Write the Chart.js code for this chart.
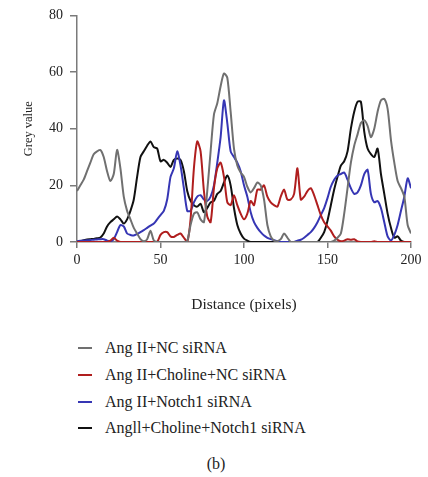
<!DOCTYPE html>
<html lang="en">
<head>
<meta charset="UTF-8">
<title>Grey value profile</title>
<script src="https://cdn.jsdelivr.net/npm/chart.js"></script>
<style>
  body { margin: 0; background: #fff; font-family: "Liberation Serif", "Times New Roman", serif; color: #222; }
  #wrap { position: relative; width: 428px; height: 477px; overflow: hidden; }
  #chartBox { position: absolute; left: 0; top: 0; width: 428px; height: 325px; }
  #legend { position: absolute; left: 78px; top: 335px; }
  .item { height: 26.7px; display: flex; align-items: center; font-size: 16px; white-space: nowrap; }
  .swatch { width: 14px; height: 2px; margin-right: 13px; }
  #caption { position: absolute; left: 0; top: 455px; width: 432px; text-align: center; font-size: 16px; }
</style>
</head>
<body>
<div id="wrap">
  <div id="chartBox"><canvas id="profile"></canvas></div>
  <div id="legend"></div>
  <div id="caption">(b)</div>
</div>
<script>
// distance along the line (pixels), every 2 px
const distance = [];
for (let d = 0; d <= 200; d += 2) distance.push(d);

const seriesNames = ['Ang II+NC siRNA', 'Ang II+Choline+NC siRNA', 'Ang II+Notch1 siRNA', 'Angll+Choline+Notch1 siRNA'];
const seriesColors = ['#707070', '#b01e1e', '#3636b4', '#111111'];

const ncSirna = [
  18, 20, 22, 25, 28, 31, 32, 32.5, 30, 25, 21.5, 24, 32.5, 26, 16, 11, 8, 5, 3, 1,
  0.3, 1, 4, 0.5, 0, 0, 0, 0, 0, 0, 0, 0, 0, 0.3, 6, 10, 10.5, 8, 7, 18,
  32, 45, 49, 55, 59.5, 58, 46, 33, 27, 24.5, 23, 19.5, 17.5, 19, 21, 20, 15, 6, 2, 0.5,
  0.3, 1, 3, 1.5, 0, 0, 0, 0, 0, 0, 0, 0, 0, 0, 0, 0, 0, 0.5, 1.5, 3,
  10, 19, 28, 34, 38, 42, 43, 41, 37, 40, 46, 50, 50.5, 47, 36, 28, 21.5, 19, 16, 6, 3
];
const cholineNc = [
  0, 0, 0, 0, 0, 0, 0, 0, 0, 0, 0.5, 1.5, 0.5, 0, 0, 0, 0, 0, 0, 0,
  0, 0, 0, 0, 0, 2.5, 3.5, 3.5, 2, 1.8, 2.5, 3, 1.5, 0, 8, 26, 35.5, 32, 18, 9,
  7, 19, 26, 28, 23, 14, 13, 16.5, 13, 10, 8, 10, 14.5, 13, 18.5, 18.5, 20, 16, 14, 13,
  12.5, 16, 18.5, 15, 15, 17, 26, 15, 16, 18, 19, 16.5, 13, 9.5, 7, 5.5, 4, 2, 0.8, 0.3,
  0.5, 1, 0.8, 1, 0.2, 0, 0, 0, 0, 0.3, 0, 0, 0, 0, 0, 0, 0, 0, 0, 0, 0
];
const notch1Sirna = [
  0.3, 0.4, 0.5, 0.6, 0.7, 0.8, 0.9, 1, 1, 0.5, 0.2, 1, 3.5, 6, 5.5, 3, 2.5, 2.3, 2.8, 3.5,
  4.2, 5, 5.8, 6.5, 8, 9.5, 11, 15, 23, 26, 32, 27, 19, 11, 11, 14, 16, 16.5, 15, 14.5,
  16, 20, 28, 37, 50, 42, 32, 30, 28, 25, 20, 16, 10.5, 7, 5, 3.5, 2.3, 1.5, 1, 0.6,
  0.3, 0, 0, 0, 0, 0, 0.5, 0.8, 1.5, 2.5, 3.5, 5, 7, 9.5, 12, 15.5, 19.5, 22, 23.5, 24,
  24.5, 22, 19, 17, 17.5, 20, 24, 25.5, 17, 14, 14.5, 12, 7, 2, 0.5, 2.5, 6, 11, 16, 22.5, 19
];
const cholineNotch1 = [
  0, 0.3, 0.6, 0.9, 1, 1.1, 1.3, 1.6, 3, 5.5, 7, 8, 9, 8, 6.5, 8, 11, 15, 23, 30,
  32, 34, 35.5, 33.5, 33, 28.5, 29, 28, 26.5, 29, 29.5, 29, 25, 18, 14.5, 13, 12.5, 13.5, 10.5, 12,
  14, 14.5, 17, 18, 21, 23.5, 20, 12, 6, 3, 1.2, 0.5, 0, 0, 0, 0, 0, 0, 0, 0,
  0, 0, 0, 0, 0, 0, 0, 0, 0, 0, 0, 0, 0, 1.5, 3.5, 7.5, 13, 18.5, 23, 27,
  28.5, 32, 40, 46, 49.5, 49.5, 39, 33, 31, 30, 33, 24, 17, 10, 5, 1.5, 2, 0.5, 0, 0, 0
];

const xTicks = [0, 50, 100, 150, 200];
const yTicks = [0, 20, 40, 60, 80];

const allSeries = [ncSirna, cholineNc, notch1Sirna, cholineNotch1];
const axisColor = '#7a7a7a';
const serif = '"Liberation Serif", "Times New Roman", serif';

new Chart(document.getElementById('profile'), {
  type: 'line',
  data: {
    datasets: allSeries.map((vals, i) => ({
      label: seriesNames[i],
      data: distance.map((x, k) => ({ x: x, y: vals[k] })),
      borderColor: seriesColors[i],
      borderWidth: 2,
      pointRadius: 0,
      tension: 0.25,
      fill: false
    }))
  },
  options: {
    responsive: true,
    maintainAspectRatio: false,
    animation: false,
    layout: { padding: { left: 0, top: 12, right: 17, bottom: 0 } },
    plugins: { legend: { display: false }, tooltip: { enabled: false } },
    scales: {
      x: {
        type: 'linear',
        min: 0, max: 200,
        afterFit: s => { s.height = 83; },
        afterBuildTicks: s => { s.ticks = xTicks.map(v => ({ value: v })); },
        ticks: { color: '#222', font: { family: serif, size: 14 }, padding: 4, maxRotation: 0 },
        grid: { drawOnChartArea: false, drawTicks: true, tickLength: 6, color: axisColor, lineWidth: 1.5 },
        border: { color: axisColor, width: 1.5 },
        title: { display: true, text: 'Distance (pixels)', color: '#222', font: { family: serif, size: 15.5 }, padding: { top: 0, bottom: 10.5 } }
      },
      y: {
        min: 0, max: 80,
        afterFit: s => { s.width = 77; },
        afterBuildTicks: s => { s.ticks = yTicks.map(v => ({ value: v })); },
        ticks: { color: '#222', font: { family: serif, size: 14 }, padding: 7 },
        grid: { drawOnChartArea: false, drawTicks: true, tickLength: 7, color: axisColor, lineWidth: 1.5 },
        border: { color: axisColor, width: 1.5 },
        title: { display: true, text: 'Grey value', color: '#222', font: { family: serif, size: 12.5 }, padding: { top: 21, bottom: 0 } }
      }
    }
  }
});

// legend below the plot
const legend = document.getElementById('legend');
seriesNames.forEach((name, i) => {
  const row = document.createElement('div');
  row.className = 'item';
  row.innerHTML = '<span class="swatch" style="background:' + seriesColors[i] + '"></span><span>' + name + '</span>';
  legend.appendChild(row);
});
</script>
</body>
</html>
